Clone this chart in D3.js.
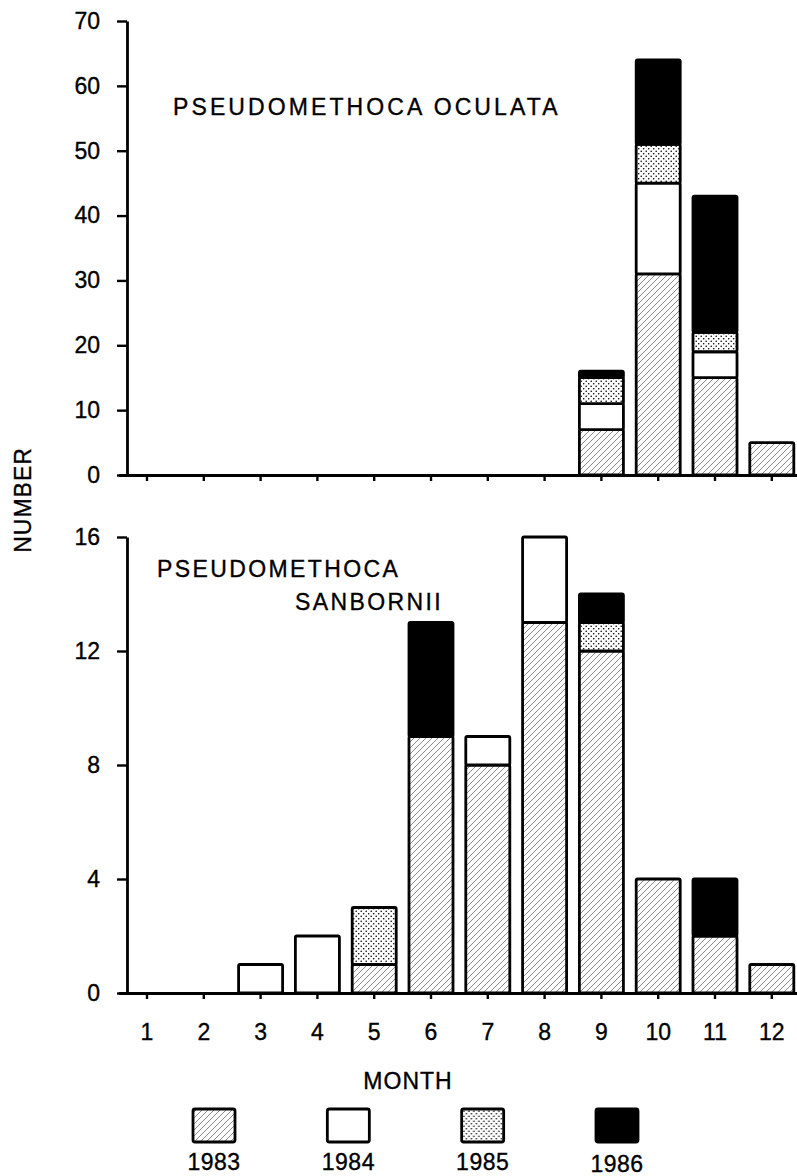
<!DOCTYPE html>
<html>
<head>
<meta charset="utf-8">
<script src="https://cdn.jsdelivr.net/npm/d3@7"></script>
<style>
  body { margin: 0; background: #fff; }
  svg { display: block; font-family: "Liberation Sans", Arial, sans-serif; }
  text { stroke: #000; stroke-width: 0.35px; }
</style>
</head>
<body>
<div id="chart-wrap"></div>
<script>
const width = 797;
const height = 1176;

const months = [1, 2, 3, 4, 5, 6, 7, 8, 9, 10, 11, 12];
const years = ["1983", "1984", "1985", "1986"];

// Pseudomethoca oculata, counts per month
const oculata1983 = [0, 0, 0, 0, 0, 0, 0, 0, 7, 31, 15, 5];
const oculata1984 = [0, 0, 0, 0, 0, 0, 0, 0, 4, 14, 4, 0];
const oculata1985 = [0, 0, 0, 0, 0, 0, 0, 0, 4, 6, 3, 0];
const oculata1986 = [0, 0, 0, 0, 0, 0, 0, 0, 1, 13, 21, 0];

// Pseudomethoca sanbornii, counts per month
const sanbornii1983 = [0, 0, 0, 0, 1, 9, 8, 13, 12, 4, 2, 1];
const sanbornii1984 = [0, 0, 1, 2, 0, 0, 1, 3, 0, 0, 0, 0];
const sanbornii1985 = [0, 0, 0, 0, 2, 0, 0, 0, 1, 0, 0, 0];
const sanbornii1986 = [0, 0, 0, 0, 0, 4, 0, 0, 1, 0, 2, 0];

const oculataTicks = [0, 10, 20, 30, 40, 50, 60, 70];
const sanborniiTicks = [0, 4, 8, 12, 16];

function toRows(a, b, c, d) {
  return months.map((m, i) => ({ month: m, "1983": a[i], "1984": b[i], "1985": c[i], "1986": d[i] }));
}

const svg = d3.select("#chart-wrap")
  .append("svg")
  .attr("width", width)
  .attr("height", height);

// fill patterns
const defs = svg.append("defs");
const hatch = defs.append("pattern")
  .attr("id", "hatch")
  .attr("patternUnits", "userSpaceOnUse")
  .attr("width", 6).attr("height", 6);
hatch.append("rect").attr("width", 6).attr("height", 6).attr("fill", "#fff");
hatch.append("path")
  .attr("d", "M-1,1 l2,-2 M0,6 l6,-6 M5,7 l2,-2")
  .attr("stroke", "#555")
  .attr("stroke-width", 0.7);

const dots = defs.append("pattern")
  .attr("id", "dots")
  .attr("patternUnits", "userSpaceOnUse")
  .attr("width", 5).attr("height", 5);
dots.append("rect").attr("width", 5).attr("height", 5).attr("fill", "#fff");
dots.append("circle").attr("cx", 1.2).attr("cy", 1.2).attr("r", 0.8).attr("fill", "#000");
dots.append("circle").attr("cx", 3.7).attr("cy", 3.7).attr("r", 0.8).attr("fill", "#000");

const fills = d3.scaleOrdinal()
  .domain(years)
  .range(["url(#hatch)", "#fff", "url(#dots)", "#000"]);

const x = d3.scaleBand()
  .domain(months)
  .range([118.6, 800.2])
  .paddingInner(0.225)
  .paddingOuter(0.1125);

const stack = d3.stack().keys(years);

function drawPanel(rows, y, ticks, showMonths) {
  const g = svg.append("g");

  const series = stack(rows);
  g.selectAll("g.layer")
    .data(series)
    .join("g")
    .attr("class", "layer")
    .attr("fill", d => fills(d.key))
    .selectAll("rect")
    .data(d => d.filter(s => s[1] > s[0]))
    .join("rect")
    .attr("x", d => x(d.data.month))
    .attr("y", d => y(d[1]))
    .attr("width", x.bandwidth())
    .attr("height", d => y(d[0]) - y(d[1]))
    .attr("rx", 1.5)
    .attr("stroke", "#000")
    .attr("stroke-width", 2.8);

  // x axis
  const xAxis = g.append("g")
    .attr("transform", "translate(0," + y(0) + ")")
    .call(d3.axisBottom(x).tickSize(6).tickSizeOuter(0).tickPadding(25));
  xAxis.select(".domain").attr("stroke-width", 2.8);
  xAxis.selectAll(".tick line").attr("stroke-width", 2.4);
  xAxis.selectAll(".tick text")
    .attr("font-size", 23)
    .attr("fill", "#000")
    .attr("font-family", "Liberation Sans, Arial, sans-serif")
    .style("display", showMonths ? null : "none");

  // y axis
  const yAxis = g.append("g")
    .attr("transform", "translate(127,0)")
    .call(d3.axisLeft(y).tickValues(ticks).tickSize(10).tickSizeOuter(0).tickPadding(17));
  yAxis.select(".domain").attr("stroke-width", 2.8);
  yAxis.selectAll(".tick line").attr("stroke-width", 2.4);
  yAxis.selectAll(".tick text")
    .attr("font-size", 23)
    .attr("fill", "#000")
    .attr("font-family", "Liberation Sans, Arial, sans-serif");

  return g;
}

const yTop = d3.scaleLinear().domain([0, 70]).range([475, 21]);
const yBottom = d3.scaleLinear().domain([0, 16]).range([993, 537]);

const topPanel = drawPanel(toRows(oculata1983, oculata1984, oculata1985, oculata1986), yTop, oculataTicks, false);
const bottomPanel = drawPanel(toRows(sanbornii1983, sanbornii1984, sanbornii1985, sanbornii1986), yBottom, sanborniiTicks, true);

topPanel.append("text")
  .attr("x", 173).attr("y", 115)
  .attr("font-size", 23)
  .attr("letter-spacing", 3.1)
  .text("PSEUDOMETHOCA OCULATA");

bottomPanel.append("text")
  .attr("x", 157).attr("y", 577)
  .attr("font-size", 23)
  .attr("letter-spacing", 2.4)
  .text("PSEUDOMETHOCA");

bottomPanel.append("text")
  .attr("x", 295).attr("y", 610)
  .attr("font-size", 23)
  .attr("letter-spacing", 2.4)
  .text("SANBORNII");

svg.append("text")
  .attr("transform", "translate(31,500) rotate(-90)")
  .attr("text-anchor", "middle")
  .attr("font-size", 23)
  .attr("letter-spacing", 1)
  .text("NUMBER");

svg.append("text")
  .attr("x", 408).attr("y", 1089)
  .attr("text-anchor", "middle")
  .attr("font-size", 23)
  .attr("letter-spacing", 1)
  .text("MONTH");

// legend
const lx = d3.scalePoint().domain(years).range([214, 617]);
const legend = svg.append("g")
  .selectAll("g")
  .data(years)
  .join("g")
  .attr("transform", d => "translate(" + lx(d) + ",0)");

legend.append("rect")
  .attr("x", -21).attr("y", 1109)
  .attr("width", 42).attr("height", 33)
  .attr("rx", 2)
  .attr("fill", d => fills(d))
  .attr("stroke", "#000")
  .attr("stroke-width", 2.8);

legend.append("text")
  .attr("y", (d, i) => i === 3 ? 1172 : 1170)
  .attr("text-anchor", "middle")
  .attr("font-size", 23)
  .attr("letter-spacing", 0.5)
  .text(d => d);
</script>
</body>
</html>
